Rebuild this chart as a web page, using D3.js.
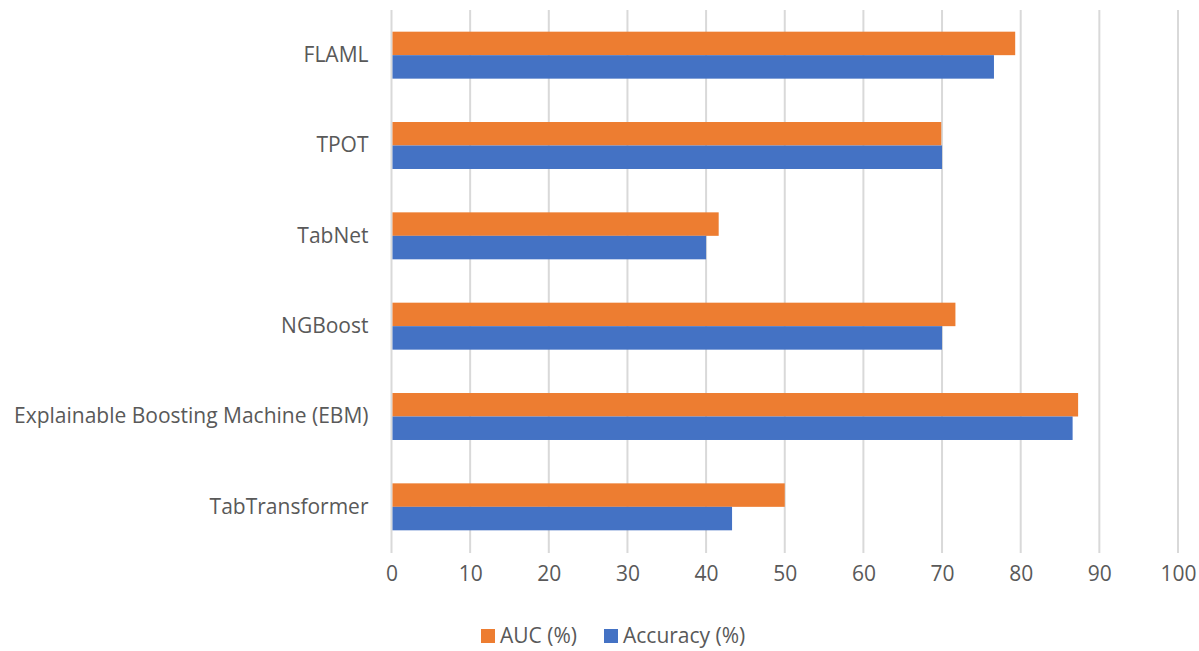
<!DOCTYPE html>
<html>
<head>
<meta charset="utf-8">
<script src="https://cdn.jsdelivr.net/npm/d3@7"></script>
<style>
  html, body { margin: 0; padding: 0; background: #fff; }
  svg { display: block; }
  text { font-family: "Open Sans", sans-serif; fill: #595959; }
</style>
</head>
<body>
<svg id="chart" width="1199" height="651"></svg>
<script>
// Model names, top to bottom
const models = ["FLAML", "TPOT", "TabNet", "NGBoost", "Explainable Boosting Machine (EBM)", "TabTransformer"];
// Scores per model (%)
const aucValues = [79.3, 69.9, 41.6, 71.7, 87.3, 50.0];
const accuracyValues = [76.6, 70.0, 40.0, 70.0, 86.6, 43.3];
// Axis ticks
const xTicks = [0, 10, 20, 30, 40, 50, 60, 70, 80, 90, 100];

const seriesNames = ["AUC (%)", "Accuracy (%)"];
const seriesColors = ["#ED7D31", "#4472C4"];
const seriesValues = [aucValues, accuracyValues];

const FONT = "'Open Sans', sans-serif";
const FONT_SIZE = "21px";

const svg = d3.select("#chart");
const margin = { left: 391.5, right: 21, top: 10, bottom: 99 };
const W = 1199, H = 651;

const x = d3.scaleLinear().domain([0, 100]).range([margin.left, W - margin.right]);
const y = d3.scaleBand().domain(models).range([margin.top, H - margin.bottom]).paddingInner(0.48).paddingOuter(0.24);
const inner = d3.scaleBand().domain(seriesNames).range([0, y.bandwidth()]);

// vertical gridlines
svg.append("g")
  .selectAll("line")
  .data(xTicks)
  .join("line")
  .attr("x1", d => x(d)).attr("x2", d => x(d))
  .attr("y1", margin.top).attr("y2", H - margin.bottom + 1)
  .attr("stroke", "#d9d9d9").attr("stroke-width", 2);

// bars
const rows = models.map((m, i) => ({ model: m, values: seriesNames.map((s, j) => ({ s, j, v: seriesValues[j][i] })) }));
const groups = svg.append("g").selectAll("g")
  .data(rows).join("g")
  .attr("transform", d => `translate(0,${y(d.model)})`);
groups.selectAll("rect")
  .data(d => d.values)
  .join("rect")
  .attr("x", x(0) + 1)
  .attr("y", d => inner(d.s))
  .attr("width", d => x(d.v) - x(0) - 1)
  .attr("height", inner.bandwidth())
  .attr("fill", d => seriesColors[d.j]);

// x axis labels
const xAxis = d3.axisBottom(x).tickValues(xTicks).tickSize(0).tickPadding(0);
const gx = svg.append("g")
  .attr("transform", `translate(0,${H - margin.bottom + 14})`)
  .call(xAxis);
gx.select(".domain").remove();
gx.selectAll("text").style("font-size", FONT_SIZE).style("fill", "#595959").style("font-family", FONT);

// category labels
const yAxis = d3.axisLeft(y).tickSize(0).tickPadding(0);
const gy = svg.append("g")
  .attr("transform", `translate(${x(0) - 23},0)`)
  .call(yAxis);
gy.select(".domain").remove();
gy.selectAll("text").style("font-size", FONT_SIZE).style("fill", "#595959").style("font-family", FONT);

// legend
const legend = svg.append("g").attr("transform", "translate(481,636)");
const legendX = [0, 123];
seriesNames.forEach((s, j) => {
  const g = legend.append("g").attr("transform", `translate(${legendX[j]},0)`);
  g.append("rect").attr("x", 0).attr("y", -7).attr("width", 14).attr("height", 14).attr("fill", seriesColors[j]);
  g.append("text").attr("x", 19).attr("y", 0).attr("dy", "0.35em")
    .style("font-size", FONT_SIZE).style("font-family", FONT).text(s);
});
</script>
</body>
</html>
